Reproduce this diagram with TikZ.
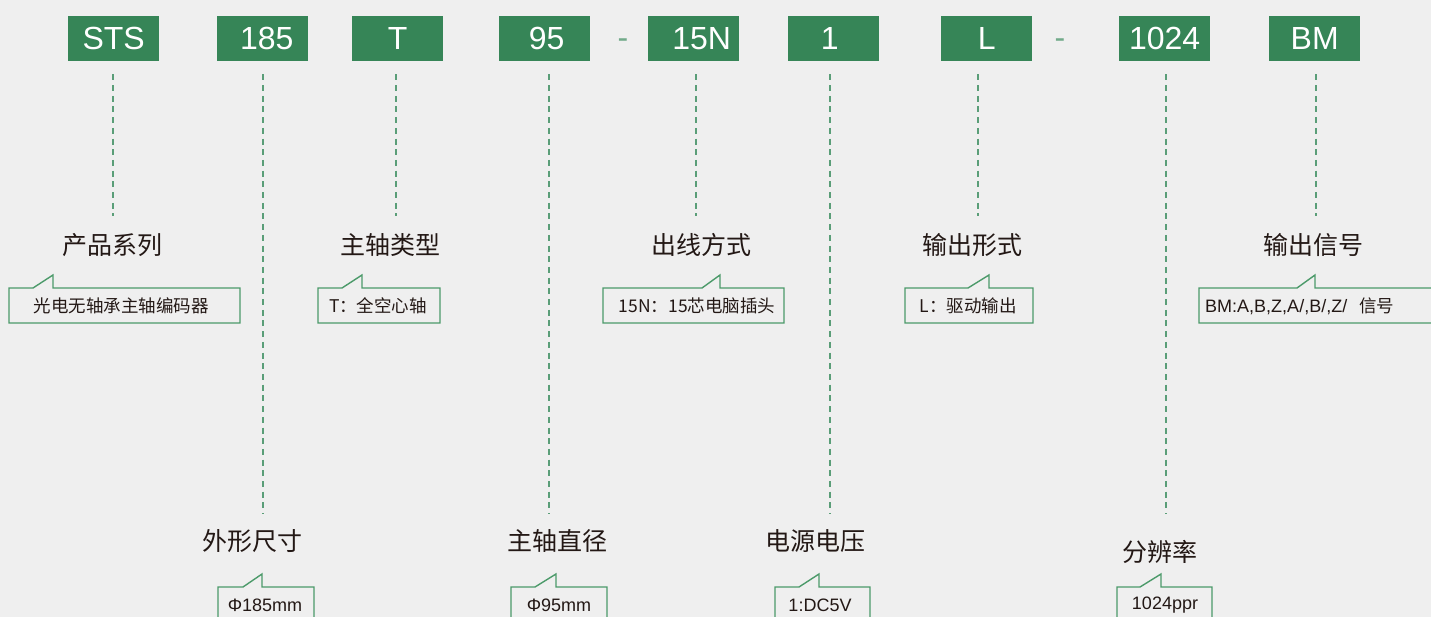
\documentclass[tikz,border=0pt]{standalone}
\usepackage{fontspec}
\usetikzlibrary{calc}
\setmainfont{Liberation Sans}
\newfontfamily\cjk{Noto Sans CJK SC}
\definecolor{bgc}{HTML}{EFEFEF}
\definecolor{boxg}{HTML}{368557}
\definecolor{lineg}{HTML}{5A9E78}
\definecolor{calg}{HTML}{4C9A6A}
\definecolor{txt}{HTML}{231815}
\definecolor{sepg}{HTML}{72AA8A}
\tikzset{
  codebox/.style={fill=boxg, text=white, minimum width=91pt, minimum height=45pt, inner sep=0pt,
    font=\fontsize{32}{38}\selectfont, anchor=north west},
  sepdash/.style={text=sepg, font=\fontsize{32}{38}\selectfont, inner sep=0pt},
  dl/.style={draw=lineg, line width=2pt, dash pattern=on 6pt off 4.7pt},
  title/.style={text=txt, inner sep=0pt, font=\cjk\fontsize{25}{30}\selectfont},
  calline/.style={draw=calg, line width=1.4pt, fill=bgc, line join=miter},
  caltext/.style={text=txt, inner sep=0pt, font=\cjk\fontsize{17.5}{21}\selectfont},
  caltextl/.style={text=txt, inner sep=0pt, font=\fontsize{18}{22}\selectfont},
}
\newcommand{\mycallout}[7]{%
  \path[calline] (#1,#4) -- (#1,#3) -- (#5,#3) -- (#6,#7) -- (#6,#3) -- (#2,#3) -- (#2,#4) -- cycle;}
\begin{document}
\begin{tikzpicture}[x=1pt,y=-1pt]
\useasboundingbox (0,0) rectangle (1431,617);
\fill[bgc] (0,0) rectangle (1431,617);
\clip (0,0) rectangle (1431,617);

% code boxes
\node[codebox] (sts) at (68,16) {STS};
\node[codebox] (d185) at (217,16) {\hspace*{8pt}185};
\node[codebox] (t) at (352,16) {T};
\node[codebox] (d95) at (499,16) {\hspace*{4pt}95};
\node[codebox] (n15) at (648,16) {\hspace*{16pt}15N};
\node[codebox] (one) at (788,16) {1\hspace*{8pt}};
\node[codebox] (l) at (941,16) {L};
\node[codebox] (r1024) at (1119,16) {1024};
\node[codebox] (bm) at (1269,16) {BM};
\node[sepdash] (s1) at (623,44) {-};
\node[sepdash] (s2) at (1060,44) {-};

% dashed lines (top ones 142 long, bottom ones 439 long)
\draw[dl] ($(sts.south)+(-0.5,13)$) -- ++(0,142);
\draw[dl] ($(d185.south)+(0.5,13)$) -- ++(0,439);
\draw[dl] ($(t.south)+(-1.5,13)$) -- ++(0,142);
\draw[dl] ($(d95.south)+(4.5,13)$) -- ++(0,439);
\draw[dl] ($(n15.south)+(2.5,13)$) -- ++(0,142);
\draw[dl] ($(one.south)+(-3.5,13)$) -- ++(0,439);
\draw[dl] ($(l.south)+(-8.5,13)$) -- ++(0,142);
\draw[dl] ($(r1024.south)+(1.5,13)$) -- ++(0,439);
\draw[dl] ($(bm.south)+(1.5,13)$) -- ++(0,142);

% titles
\node[title] (ti1) at (112,245) {产品系列};
\node[title] (ti2) at (390,245) {主轴类型};
\node[title] (ti3) at (701,245) {出线方式};
\node[title] (ti4) at (972,245) {输出形式};
\node[title] (ti5) at (1313,245) {输出信号};
\node[title] (ti6) at (252,541) {外形尺寸};
\node[title] (ti7) at (557,541) {主轴直径};
\node[title] (ti8) at (815,541) {电源电压};
\node[title] (ti9) at (1160,552) {分辨率};

% callouts
\mycallout{9}{240}{288}{323}{33}{53}{275}
\mycallout{318}{440}{288}{323}{342}{362}{275}
\mycallout{603}{784}{288}{323}{702}{720}{275}
\mycallout{905}{1033}{288}{323}{968}{989}{275}
\mycallout{1199}{1440}{288}{323}{1297}{1315}{275}
\mycallout{218}{314}{587}{640}{243}{262}{574}
\mycallout{511}{607}{587}{640}{535}{556}{574}
\mycallout{775}{870}{587}{640}{799}{819}{574}
\mycallout{1117}{1212}{587}{640}{1140}{1161}{574}

\node[caltext] (c1) at (121,306) {光电无轴承主轴编码器};
\node[caltext] (c2) at (378,306) {T：全空心轴};
\node[caltext] (c3) at (697,306) {15N：15芯电脑插头};
\node[caltext] (c4) at (968,306) {L：驱动输出};
\node[caltextl, anchor=west] (c5) at (1205,306) {BM:A,B,Z,A/,B/,Z/\hspace*{12pt}{\cjk\fontsize{17.5}{21}\selectfont 信号}};
\node[caltextl] (c6) at (265,605) {Φ185mm};
\node[caltextl] (c7) at (559,605) {Φ95mm};
\node[caltextl] (c8) at (820,605) {1:DC5V};
\node[caltextl] (c9) at (1165,605) {1024ppr};
\end{tikzpicture}
\end{document}
